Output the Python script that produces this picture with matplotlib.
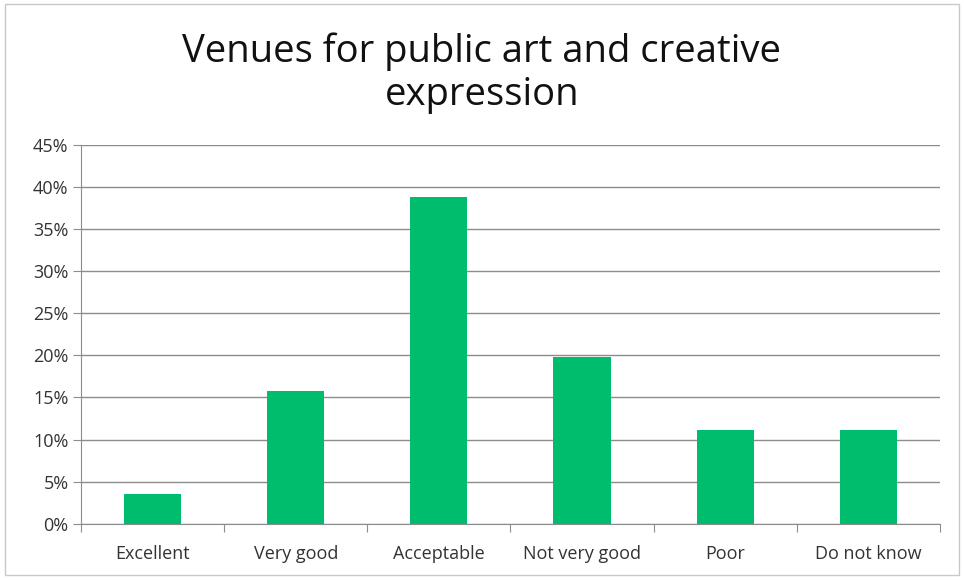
import matplotlib.pyplot as plt
from matplotlib.patches import Rectangle
from matplotlib.ticker import FuncFormatter, MultipleLocator

categories = ["Excellent", "Very good", "Acceptable", "Not very good", "Poor", "Do not know"]
values = [3.5, 15.8, 38.8, 19.8, 11.1, 11.1]
title = "Venues for public art and creative\nexpression"

plt.rcParams["font.family"] = ["Open Sans", "DejaVu Sans"]

fig = plt.figure(figsize=(9.64, 5.8), dpi=100)
fig.patches.append(Rectangle((0.005, 0.008), 0.99, 0.985, transform=fig.transFigure,
                             fill=False, edgecolor="#c8c8c8", linewidth=1))
ax = fig.add_axes([0.084, 0.097, 0.891, 0.653])

x = range(len(categories))
ax.bar(x, values, width=0.4, color="#00bd6e", zorder=3)

ax.set_xlim(-0.5, len(categories) - 0.5)
ax.set_ylim(0, 45)
ax.yaxis.set_major_locator(MultipleLocator(5))
ax.yaxis.set_major_formatter(FuncFormatter(lambda v, p: f"{v:.0f}%"))
ax.grid(axis="y", color="#8c8c8c", linewidth=1, zorder=0)

ax.set_xticks([i + 0.5 for i in range(-1, len(categories))], minor=False)
ax.set_xticklabels([])
ax.set_xticks(list(x), minor=True)
ax.set_xticklabels(categories, minor=True)
ax.tick_params(axis="x", which="major", length=6, color="#8c8c8c", direction="out")
ax.tick_params(axis="x", which="minor", length=0, pad=15, labelsize=13, labelcolor="#333333")
ax.tick_params(axis="y", length=6, color="#8c8c8c", labelsize=13, labelcolor="#333333", pad=3)

for side in ["top", "right"]:
    ax.spines[side].set_visible(False)
for side in ["left", "bottom"]:
    ax.spines[side].set_color("#8c8c8c")

fig.text(0.5, 0.945, title, ha="center", va="top", fontsize=27.5, color="#111111",
         linespacing=1.2)

fig.savefig("out.png", dpi=100)
